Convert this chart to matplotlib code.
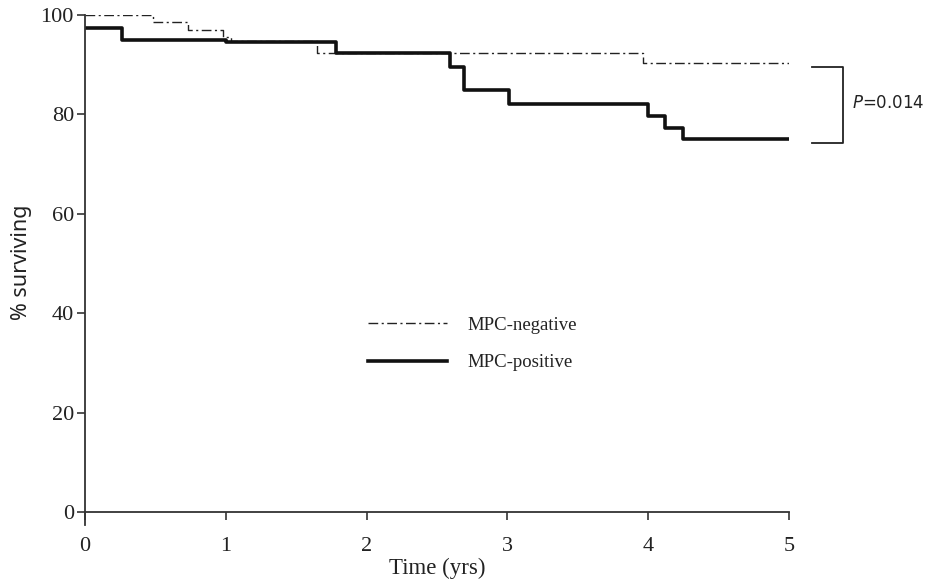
import matplotlib
matplotlib.use("Agg")
import matplotlib.pyplot as plt

# Kaplan-Meier step data (time in years, % surviving)
neg_t = [0.0, 0.48, 0.73, 0.98, 1.04, 1.65, 3.96, 5.02]
neg_s = [100.0, 98.6, 96.9, 95.6, 94.7, 92.4, 90.4, 90.4]

pos_t = [0.0, 0.26, 1.0, 1.78, 2.59, 2.69, 3.01, 4.0, 4.12, 4.25, 5.02]
pos_s = [97.3, 95.0, 94.6, 92.3, 89.5, 85.0, 82.0, 79.6, 77.2, 75.0, 75.0]

x_ticks = [0, 1, 2, 3, 4, 5]
y_ticks = [0, 20, 40, 60, 80, 100]
p_text = "0.014"

plt.rcParams["font.family"] = ["Liberation Serif", "DejaVu Serif"]
plt.rcParams["mathtext.fontset"] = "dejavusans"

fig = plt.figure(figsize=(9.26, 5.85), dpi=100)
ax = fig.add_axes([85 / 926, 1 - 525 / 585, (789 - 85) / 926, (525 - 15) / 585])

ax.step(neg_t, neg_s, where="post", color="#222222", lw=1.0,
        dashes=[7, 2.5, 1.5, 2.5], label="MPC-negative")
ax.step(pos_t, pos_s, where="post", color="#111111", lw=2.6,
        label="MPC-positive")

ax.set_xlim(0, 5)
ax.set_ylim(-2.6, 100)
ax.spines["top"].set_visible(False)
ax.spines["right"].set_visible(False)
ax.spines["bottom"].set_position(("data", 0))
ax.spines["left"].set_bounds(-2.6, 100)
for s in ("left", "bottom"):
    ax.spines[s].set_color("#333333")
    ax.spines[s].set_linewidth(1.3)

ax.set_xticks(x_ticks)
ax.set_yticks(y_ticks)
ax.tick_params(axis="both", direction="out", length=6, width=1.2,
               colors="#333333", labelsize=16, labelcolor="#222222")
ax.tick_params(axis="x", pad=12)
ax.tick_params(axis="y", pad=2)

ax.set_xlabel("Time (yrs)", fontsize=16.5, color="#222222", labelpad=1)
ax.set_ylabel("% surviving", fontsize=15.5, color="#222222",
              family=["Noto Sans", "DejaVu Sans"])
ax.yaxis.set_label_coords((32 - 85) / 704, (525 - 262) / 510)

# bracket with p-value
bx0, bx1 = 5.16, 5.38
ax.plot([bx0, bx1, bx1, bx0], [neg_s[-1] - 0.9, neg_s[-1] - 0.9,
                               pos_s[-1] - 0.8, pos_s[-1] - 0.8],
        color="#222222", lw=1.3, clip_on=False)
ax.text(5.45, 82.2, r"$P$" + "=" + p_text, fontsize=12,
        va="center", ha="left", color="#222222",
        family=["DejaVu Sans"])

leg = ax.legend(loc="center left", bbox_to_anchor=((368 - 85) / 704, (525 - 344) / 510),
                frameon=False, fontsize=13.5, handlelength=4.2,
                handletextpad=1.1, labelspacing=1.1, borderpad=0,
                borderaxespad=0)
for t in leg.get_texts():
    t.set_color("#222222")

fig.savefig("out.png", dpi=100)
